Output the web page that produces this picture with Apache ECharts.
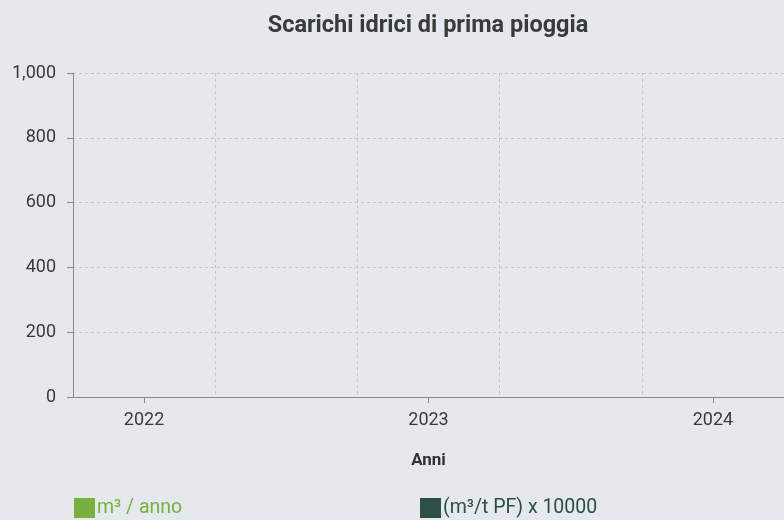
<!DOCTYPE html>
<html>
<head>
<meta charset="utf-8">
<script src="https://cdn.jsdelivr.net/npm/echarts@6/dist/echarts.min.js"></script>
<style>
html,body{margin:0;padding:0;background:#e5e8ed;}
#c{width:784px;height:520px;}
</style>
</head>
<body>
<div id="c"></div>
<script>
var years = [2022, 2023, 2024];
var volumePerYear = [0, 0, 0];
var ratioTimes10000 = [0, 0, 0];
var yTicks = [0, 200, 400, 600, 800, 1000];
var seriesNames = ['m³ / anno', '(m³/t PF) x 10000'];
var titleText = 'Scarichi idrici di prima pioggia';
var axisName = 'Anni';

var chart = echarts.init(document.getElementById('c'), null, {renderer: 'canvas'});
var font = 'Roboto';
var option = {
  backgroundColor: '#e5e8ed',
  animation: false,
  title: {
    text: titleText,
    left: 423, top: 9, textAlign: 'center',
    textStyle: {fontFamily: font, fontSize: 23.5, fontWeight: 'bold', color: '#3a3a3a'}
  },
  legend: [{
    left: 74, top: 498, itemWidth: 21, itemHeight: 20, itemGap: 4, padding: 0,
    icon: 'rect',
    data: [{name: seriesNames[0], textStyle: {color: '#76b13f'}}],
    textStyle: {fontFamily: font, fontSize: 19.5, padding: [3, 0, 0, -3]}
  }, {
    left: 420, top: 498, itemWidth: 21, itemHeight: 20, padding: 0,
    icon: 'rect',
    data: [{name: seriesNames[1], textStyle: {color: '#2d4f43'}}],
    textStyle: {fontFamily: font, fontSize: 19.5, padding: [3, 0, 0, -3]}
  }],
  grid: {left: 73, right: 0, top: 73, bottom: 123, containLabel: false},
  xAxis: [{
    type: 'value',
    min: years[0] - 0.25, max: years[years.length - 1] + 0.25,
    name: axisName, nameLocation: 'middle', nameGap: 55,
    nameTextStyle: {fontFamily: font, fontSize: 17, fontWeight: 'bold', color: '#333'},
    axisLine: {show: true, lineStyle: {color: '#8a8a8a', width: 1}},
    axisTick: {show: true, length: 6, customValues: years, lineStyle: {color: '#8a8a8a'}},
    axisLabel: {customValues: years, margin: 14, fontFamily: font, fontSize: 18, color: '#3a3a3a',
      formatter: function (v) { return String(v); }},
    splitLine: {show: false}
  }, {
    type: 'value', min: 0, max: 5, interval: 1, position: 'bottom',
    axisLine: {show: false}, axisTick: {show: false}, axisLabel: {show: false},
    splitLine: {show: true, lineStyle: {color: '#c4c6c9', type: [3, 3], width: 1}}
  }],
  yAxis: {
    type: 'value', min: yTicks[0], max: yTicks[yTicks.length - 1], interval: yTicks[1] - yTicks[0],
    axisLine: {show: true, lineStyle: {color: '#8a8a8a', width: 1}},
    axisTick: {show: true, length: 6, lineStyle: {color: '#8a8a8a'}},
    axisLabel: {margin: 17, fontFamily: font, fontSize: 18, color: '#3a3a3a',
      formatter: function (v) { return v.toLocaleString('en-US'); }},
    splitLine: {show: true, lineStyle: {color: '#c4c6c9', type: [3, 3], width: 1}}
  },
  series: [{
    name: seriesNames[0], type: 'bar', xAxisIndex: 0, itemStyle: {color: '#76b13f'},
    barWidth: 40,
    data: years.map(function (y, i) { return [y - 0.12, volumePerYear[i]]; })
  }, {
    name: seriesNames[1], type: 'bar', xAxisIndex: 0, itemStyle: {color: '#2d4f43'},
    barWidth: 40,
    data: years.map(function (y, i) { return [y + 0.12, ratioTimes10000[i]]; })
  }]
};
chart.setOption(option);
</script>
</body>
</html>
